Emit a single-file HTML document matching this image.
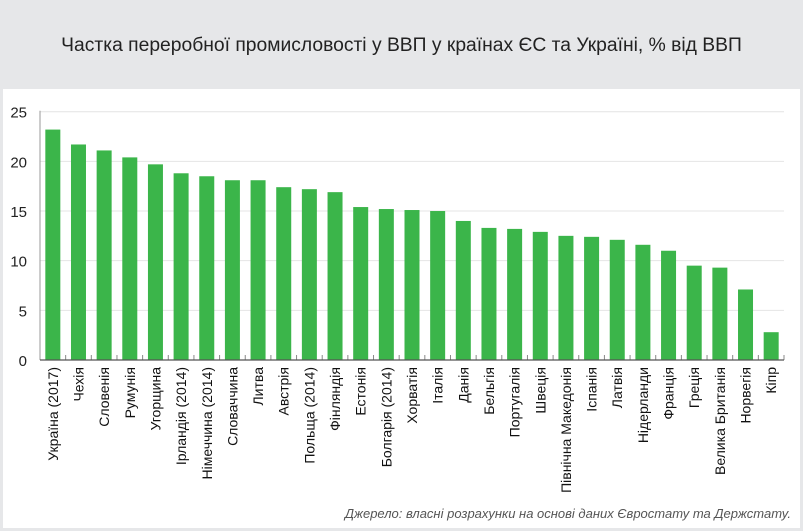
<!DOCTYPE html>
<html><head><meta charset="utf-8"><style>
body{margin:0;width:803px;height:531px;background:#e6e7e9;font-family:"Liberation Sans",sans-serif;overflow:hidden}
#panel{position:absolute;left:3px;top:89px;width:797px;height:439px;background:#fff}
#title{position:absolute;left:0;top:35px;width:803px;text-align:center;font-size:19.3px;color:#222}
#src{position:absolute;right:12px;top:506px;font-size:13px;font-style:italic;color:#555}
svg{position:absolute;left:0;top:0}
</style></head><body>
<div id="title">Частка переробної промисловості у ВВП у країнах ЄС та Україні, % від ВВП</div>
<div id="panel"></div>
<svg id="chart" width="803" height="531"></svg>
<div id="src">Джерело: власні розрахунки на основі даних Євростату та Держстату.</div>
<script>
const categories=["Україна (2017)","Чехія","Словенія","Румунія","Угорщина","Ірландія (2014)","Німеччина (2014)","Словаччина","Литва","Австрія","Польща (2014)","Фінляндія","Естонія","Болгарія (2014)","Хорватія","Італія","Данія","Бельгія","Португалія","Швеція","Північна Македонія","Іспанія","Латвія","Нідерланди","Франція","Греція","Велика Британія","Норвегія","Кіпр"];
const values=[23.2,21.7,21.1,20.4,19.7,18.8,18.5,18.1,18.1,17.4,17.2,16.9,15.4,15.2,15.1,15.0,14.0,13.3,13.2,12.9,12.5,12.4,12.1,11.6,11.0,9.5,9.3,7.1,2.8];
const yTicks=[0,5,10,15,20,25];
const NS="http://www.w3.org/2000/svg";
const svg=document.getElementById('chart');
const x0=40,x1=784,y0=360,yTop=111.7,yMax=25;
const y=v=>y0-(v/yMax)*(y0-yTop);
const band=(x1-x0)/categories.length;
const xc=i=>x0+band*(i+0.5);
function mk(t,a){const e=document.createElementNS(NS,t);for(const k in a)e.setAttribute(k,a[k]);svg.appendChild(e);return e;}
yTicks.forEach(t=>{
 if(t>0){const g=mk('line',{x1:x0,x2:x1,y1:y(t),y2:y(t),stroke:'#e4e4e4','stroke-width':1});
 
 }
 const l=mk('text',{x:27,y:y(t)+6,'text-anchor':'end','font-size':15,fill:'#222','font-family':'Liberation Sans, sans-serif'});
 l.textContent=t;
 
 
});
const ya=mk('line',{x1:x0,x2:x0,y1:y(yMax)-1,y2:y0,stroke:'#999','stroke-width':1});


categories.forEach((c,i)=>{
 const b=mk('rect',{x:xc(i)-7.5,y:y(values[i]),width:15,height:y0-y(values[i]),fill:'#3bb54a'});
 
 
 const tk=mk('line',{x1:x0+band*(i+1),x2:x0+band*(i+1),y1:y0,y2:y0-5,stroke:'#888','stroke-width':1});
 
 
 const tx=xc(i)+5,ty=y0+7;
 const t=mk('text',{x:tx,y:ty,transform:`rotate(-90 ${tx} ${ty})`,'text-anchor':'end','font-size':14,fill:'#111','font-family':'Liberation Sans, sans-serif'});
 t.textContent=c;
 
 
});
const xa=mk('line',{x1:x0,x2:x1,y1:y0,y2:y0,stroke:'#555','stroke-width':1.2});


</script>
</body></html>
